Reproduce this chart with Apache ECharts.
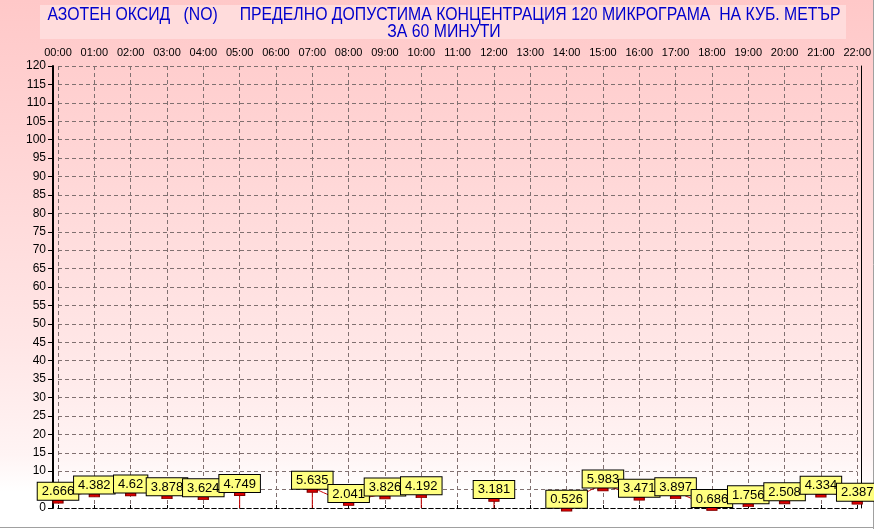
<!DOCTYPE html>
<html><head><meta charset="utf-8">
<script src="https://cdn.jsdelivr.net/npm/echarts@6/dist/echarts.min.js"></script>
<style>
html,body{margin:0;padding:0;}
#c{width:874px;height:529px;background:linear-gradient(to bottom,#ffc8c8 0%,#ffd8d8 35%,#ffe6e6 65%,#fff4f4 86%,#ffffff 93%,#ffffff 100%);}
</style></head>
<body><div id="c"></div>
<script>
var hours = ['00:00','01:00','02:00','03:00','04:00','05:00','06:00','07:00','08:00','09:00','10:00','11:00','12:00','13:00','14:00','15:00','16:00','17:00','18:00','19:00','20:00','21:00','22:00'];
var noValues = [2.666,4.382,4.62,3.878,3.624,4.749,null,5.635,2.041,3.826,4.192,null,3.181,null,0.526,5.983,3.471,3.897,0.686,1.756,2.508,4.334,2.387];
var yTicks = {min:0, max:120, interval:5};
var titleLine1 = 'АЗОТЕН ОКСИД   (NO)     ПРЕДЕЛНО ДОПУСТИМА КОНЦЕНТРАЦИЯ 120 МИКРОГРАМА  НА КУБ. МЕТЪР';
var titleLine2 = 'ЗА 60 МИНУТИ';

var dropValues = noValues.map(function(v,i){
  if (v === null) return '-';
  var prev = i>0 ? noValues[i-1] : 0;
  var next = i<noValues.length-1 ? noValues[i+1] : 0;
  return (prev === null || next === null) ? v : '-';
});
var lineData = noValues.map(function(v){ return v === null ? '-' : v; });

// condensed title: scale Liberation Sans horizontally to fit the narrow title width
var titleFont = '18px "Liberation Sans"';
var cv = document.createElement('canvas').getContext('2d');
cv.font = titleFont;
var w1 = cv.measureText(titleLine1).width;
var sx = 793 / w1;

var chart = echarts.init(document.getElementById('c'));
var dash = [4,3];
var cx = 444;
chart.setOption({
  backgroundColor: 'transparent',
  animation: false,
  graphic: [
    {type:'rect', shape:{x:40,y:5,width:806,height:34}, style:{fill:'#ffdcdc'}, z:-1},
    {type:'text', x:cx, y:15, scaleX:sx, style:{text:titleLine1, font:titleFont, fill:'#0000cc', align:'center', verticalAlign:'middle'}},
    {type:'text', x:cx, y:32, scaleX:sx, style:{text:titleLine2, font:titleFont, fill:'#0000cc', align:'center', verticalAlign:'middle'}},
    {type:'line', shape:{x1:0,y1:527.5,x2:874,y2:527.5}, style:{stroke:'#a0a0a0',lineWidth:1}},
    {type:'line', shape:{x1:873.5,y1:0,x2:873.5,y2:529}, style:{stroke:'#a0a0a0',lineWidth:1}}
  ],
  grid: {left:58, right:13, top:66, bottom:21},
  xAxis: [{
    type:'category', data:hours, position:'top', boundaryGap:false,
    axisLine:{show:true, lineStyle:{color:'#000', width:1, type:dash}},
    axisTick:{show:true, length:3, lineStyle:{color:'#000'}},
    axisLabel:{fontFamily:'Liberation Sans', fontSize:11, color:'#000', margin:8, interval:0},
    splitLine:{show:true, lineStyle:{color:'#807070', type:dash}}
  },{
    type:'category', data:hours, position:'bottom', boundaryGap:false,
    axisLine:{show:true, lineStyle:{color:'#000', width:1, type:dash}},
    axisTick:{show:false}, axisLabel:{show:false}, splitLine:{show:false}
  }],
  yAxis: [{
    type:'value', min:yTicks.min, max:yTicks.max, interval:yTicks.interval, offset:5,
    axisLine:{show:true, lineStyle:{color:'#000', width:2}},
    axisTick:{show:true, length:5, lineStyle:{color:'#000'}},
    axisLabel:{fontFamily:'Liberation Sans', fontSize:12, color:'#000', margin:7},
    splitLine:{show:true, lineStyle:{color:'#807070', type:dash}}
  },{
    type:'value', min:yTicks.min, max:yTicks.max, interval:yTicks.interval, position:'right', offset:4,
    axisLine:{show:true, lineStyle:{color:'#000', width:1}},
    axisTick:{show:false}, axisLabel:{show:false}, splitLine:{show:false}
  }],
  series: [{
    type:'bar', data:dropValues, barWidth:1, itemStyle:{color:'#cc0000'}, silent:true, z:1
  },{
    type:'line', data:lineData, smooth:0.3, connectNulls:false,
    lineStyle:{color:'#cc0000', width:1},
    symbol:'rect', symbolSize:[10,6], symbolOffset:[0,2], showAllSymbol:true,
    itemStyle:{color:'#dd0000', borderColor:'#800000', borderWidth:1},
    labelLayout:{hideOverlap:false},
    label:{show:true, position:'top', distance:-3,
      backgroundColor:'#ffff80', borderColor:'#000', borderWidth:1, padding:[2,4,1,4],
      fontFamily:'Liberation Sans', fontSize:13, color:'#000', lineHeight:14,
      formatter:function(p){return String(p.value);}},
    z:3
  }]
});
</script></body></html>
